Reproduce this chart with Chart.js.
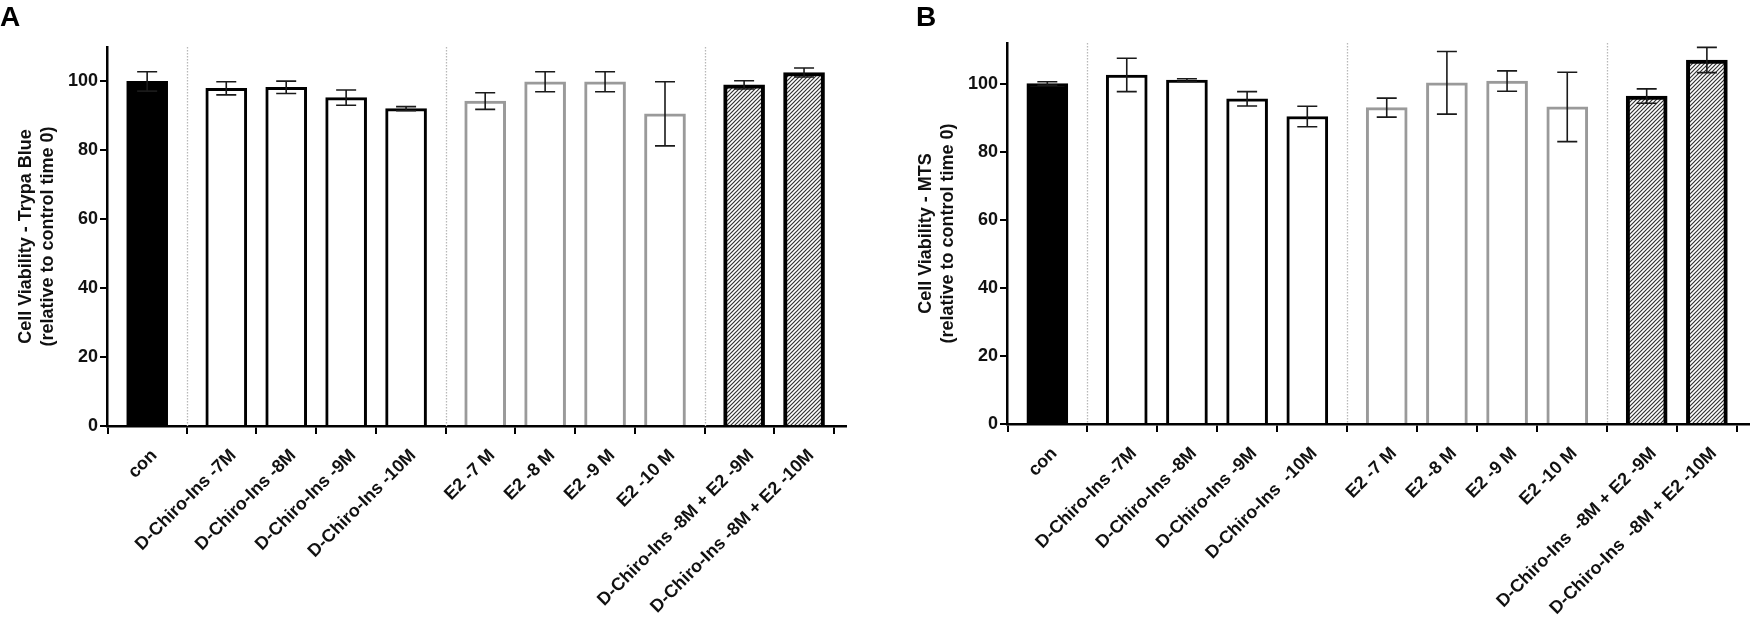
<!DOCTYPE html>
<html lang="en">
<head>
    <meta charset="UTF-8">
    <title>Cell Viability</title>
    <script src="https://cdn.jsdelivr.net/npm/chart.js@4.4.1/dist/chart.umd.min.js"></script>
    <style>
        body { margin: 0; background: #fff; }
        #wrap { position: relative; width: 1755px; height: 629px; overflow: hidden; }
        .panel { position: absolute; top: 0; }
        .letter { position: absolute; top: 3px; font: bold 28px "Liberation Sans", Arial, sans-serif; line-height: 28px; color: #000; }
    </style>
</head>
<body>
<div id="wrap">
    <canvas id="chartA" class="panel" width="870" height="629" style="left:0px"></canvas>
    <canvas id="chartB" class="panel" width="855" height="629" style="left:900px"></canvas>
    <div class="letter" style="left:0px">A</div>
    <div class="letter" style="left:916px">B</div>
</div>

<script>
    // categories
    const labelsA = ['con', 'D-Chiro-Ins -7M', 'D-Chiro-Ins -8M', 'D-Chiro-Ins -9M', 'D-Chiro-Ins -10M',
        'E2 -7 M', 'E2 -8 M', 'E2 -9 M', 'E2 -10 M',
        'D-Chiro-Ins -8M + E2 -9M', 'D-Chiro-Ins -8M + E2 -10M'];
    const labelsB = ['con', 'D-Chiro-Ins -7M', 'D-Chiro-Ins -8M', 'D-Chiro-Ins -9M', 'D-Chiro-Ins  -10M',
        'E2 -7 M', 'E2 -8 M', 'E2 -9 M', 'E2 -10 M',
        'D-Chiro-Ins  -8M + E2 -9M', 'D-Chiro-Ins  -8M + E2 -10M'];
    // bars per group: control, D-Chiro-Ins, E2, combination
    const groupSizes = [1, 4, 4, 2];

    // A: Trypan blue
    const meanA = [100.0, 98.0, 98.3, 95.3, 92.1, 94.3, 99.9, 99.9, 90.6, 99.0, 102.6];
    const sdA   = [2.8, 1.9, 1.8, 2.2, 0.6, 2.4, 2.9, 2.9, 9.3, 1.2, 1.3];
    // B: MTS
    const meanB = [100.1, 102.6, 101.1, 95.6, 90.4, 93.0, 100.3, 100.8, 93.2, 96.4, 107.0];
    const sdB   = [0.5, 4.9, 0.4, 2.1, 3.0, 2.8, 9.2, 3.0, 10.2, 2.1, 3.7];

    const yTicks = [0, 20, 40, 60, 80, 100];

    const FONT = '"Liberation Sans", Arial, sans-serif';
    const GAP = 1.32; // distance between groups, in bar steps

    // x positions of bars and the dotted separators between groups
    const positions = [];
    const separators = [];
    let pos = 0;
    groupSizes.forEach((n, g) => {
        if (g > 0) {
            separators.push(pos - 1 + GAP / 2);
            pos += GAP - 1;
        }
        for (let k = 0; k < n; k++) { positions.push(pos); pos += 1; }
    });
    const groupOf = [];
    groupSizes.forEach((n, g) => { for (let k = 0; k < n; k++) groupOf.push(g); });

    // diagonal hatching for the combination bars
    function makeHatch(ctx) {
        const n = 4;
        const c = document.createElement('canvas');
        c.width = n; c.height = n;
        const p = c.getContext('2d');
        p.fillStyle = '#fff';
        p.fillRect(0, 0, n, n);
        p.strokeStyle = '#333';
        p.lineWidth = 1.2;
        p.beginPath();
        p.moveTo(-1, n + 1); p.lineTo(n + 1, -1);
        p.moveTo(-1, 1); p.lineTo(1, -1);
        p.moveTo(n - 1, n + 1); p.lineTo(n + 1, n - 1);
        p.stroke();
        return ctx.createPattern(c, 'repeat');
    }

    const extras = {
        id: 'extras',
        beforeDatasetsDraw(chart) {
            const {ctx, chartArea: {top, bottom}, scales: {x}} = chart;
            ctx.save();
            ctx.strokeStyle = '#b8b8b8';
            ctx.lineWidth = 1.3;
            ctx.setLineDash([1.5, 1.5]);
            separators.forEach(v => {
                const px = Math.round(x.getPixelForValue(v)) + 0.5;
                ctx.beginPath();
                ctx.moveTo(px, top);
                ctx.lineTo(px, bottom);
                ctx.stroke();
            });
            ctx.restore();
        },
        afterDatasetsDraw(chart, args, opts) {
            const {ctx, scales: {y}} = chart;
            const bars = chart.getDatasetMeta(0).data;
            const vals = chart.data.datasets[0].data;
            ctx.save();
            ctx.strokeStyle = '#1a1a1a';
            ctx.lineWidth = 1.6;
            bars.forEach((bar, i) => {
                const m = vals[i].y, s = opts.sd[i];
                const y1 = y.getPixelForValue(m + s), y2 = y.getPixelForValue(m - s);
                const cx = bar.x;
                ctx.beginPath();
                ctx.moveTo(cx, y1); ctx.lineTo(cx, y2);
                ctx.moveTo(cx - 10, y1); ctx.lineTo(cx + 10, y1);
                ctx.moveTo(cx - 10, y2); ctx.lineTo(cx + 10, y2);
                ctx.stroke();
            });
            ctx.restore();
        }
    };

    function makeChart(id, labels, means, sds, yTitle, yMax, top, right, xHeight) {
        const ctx = document.getElementById(id).getContext('2d');
        const hatch = makeHatch(ctx);
        const fills = groupOf.map(g => g === 0 ? '#000' : (g === 3 ? hatch : '#fff'));
        const borders = groupOf.map(g => g === 2 ? '#9a9a9a' : '#000');
        const widths = groupOf.map(g => g === 3 ? 4 : 3);

        return new Chart(ctx, {
            type: 'bar',
            data: {
                datasets: [{
                    data: positions.map((p, i) => ({ x: p, y: means[i] })),
                    backgroundColor: fills,
                    borderColor: borders,
                    borderWidth: widths,
                    borderSkipped: 'bottom',
                    barThickness: 41
                }]
            },
            options: {
                responsive: false,
                animation: false,
                layout: { padding: { left: 0, right: right, top: top, bottom: 0 } },
                plugins: {
                    legend: { display: false },
                    tooltip: { enabled: false },
                    extras: { sd: sds }
                },
                scales: {
                    x: {
                        type: 'linear',
                        min: -0.67,
                        max: positions[positions.length - 1] + 0.7,
                        offset: false,
                        afterBuildTicks: s => { s.ticks = positions.map(v => ({ value: v })); },
                        afterFit: s => { s.height = xHeight; },
                        border: { display: true, color: '#000', width: 2.5 },
                        grid: { drawOnChartArea: false, color: '#000', lineWidth: 2, tickLength: 8 },
                        ticks: {
                            autoSkip: false,
                            minRotation: 45,
                            maxRotation: 45,
                            padding: 11,
                            labelOffset: 7,
                            color: '#111',
                            font: { family: FONT, size: 18, weight: 'bold' },
                            callback: (v, i) => labels[i]
                        }
                    },
                    y: {
                        min: 0,
                        max: yMax,
                        afterBuildTicks: s => { s.ticks = yTicks.map(v => ({ value: v })); },
                        afterFit: s => { s.width = 107; },
                        border: { display: true, color: '#000', width: 2.5 },
                        grid: { drawOnChartArea: false, color: '#000', lineWidth: 2, tickLength: 7 },
                        ticks: {
                            padding: 2,
                            color: '#111',
                            font: { family: FONT, size: 18, weight: 'bold' }
                        },
                        title: {
                            display: true,
                            text: yTitle,
                            color: '#111',
                            font: { family: FONT, size: 18, weight: 'bold', lineHeight: 1.17 },
                            padding: { top: 16, bottom: 0 }
                        }
                    }
                }
            },
            plugins: [extras]
        });
    }

    makeChart('chartA', labelsA, meanA, sdA,
        ['Cell Viability - Trypa Blue', '(relative to control time 0)'], 110, 47, 24, 203);
    makeChart('chartB', labelsB, meanB, sdB,
        ['Cell Viability - MTS', '(relative to control time 0)'], 112, 43, 6, 205);
</script>
</body>
</html>
